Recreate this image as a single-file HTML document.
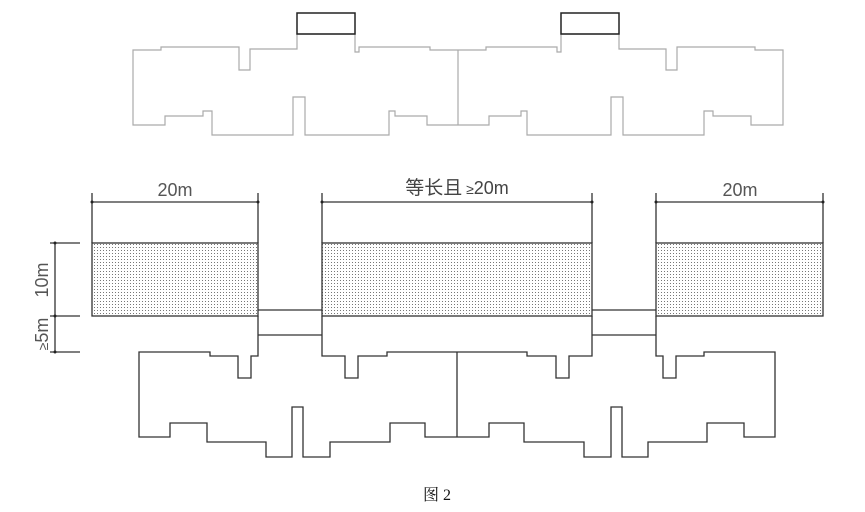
<!DOCTYPE html>
<html><head><meta charset="utf-8"><style>
html,body{margin:0;padding:0;background:#fff;width:865px;height:512px;overflow:hidden}
</style></head><body>
<svg width="865" height="512" viewBox="0 0 865 512" xmlns="http://www.w3.org/2000/svg">
<defs>
<pattern id="dots" width="3" height="3" patternUnits="userSpaceOnUse">
<rect x="1" y="1" width="1" height="1" fill="#777"/>
</pattern>
<g id="tophalf">
<polyline fill="none" stroke="#aaa" stroke-width="1.2" points="458,50 430,50 430,47 359,47 359,52 355,52 355,34 297,34 297,49 250,49 250,70 239,70 239,47 161,47 161,50 133,50 133,125 165,125 165,116 203,116 203,111 212,111 212,135 293,135 293,97 305,97 305,135 389,135 389,111 395,111 395,116 427,116 427,125 458,125"/>
<rect x="297" y="13" width="58" height="21" fill="none" stroke="#222" stroke-width="1.5"/>
</g>
<g id="lowhalf">
<polyline fill="none" stroke="#333" stroke-width="1.3" points="457,352 387,352 387,356 358,356 358,378 345,378 345,356 322,356 322,316"/>
<polyline fill="none" stroke="#333" stroke-width="1.3" points="258,316 258,356 251,356 251,378 238,378 238,356 210,356 210,352 139,352 139,437 170,437 170,423 207,423 207,442 266,442 266,457 292,457 292,407 303,407 303,457 330,457 330,442 390,442 390,423 425,423 425,437 457,437"/>
</g>
</defs>
<use href="#tophalf"/>
<use href="#tophalf" transform="translate(916,0) scale(-1,1)"/>
<line x1="458" y1="50" x2="458" y2="125" stroke="#aaa" stroke-width="1.2"/>

<use href="#lowhalf"/>
<use href="#lowhalf" transform="translate(914,0) scale(-1,1)"/>
<line x1="457" y1="352" x2="457" y2="437" stroke="#333" stroke-width="1.3"/>

<g stroke="#333" stroke-width="1.3">
<rect x="92" y="243" width="166" height="73" fill="url(#dots)"/>
<rect x="322" y="243" width="270" height="73" fill="url(#dots)"/>
<rect x="656" y="243" width="167" height="73" fill="url(#dots)"/>
<line x1="258" y1="310" x2="322" y2="310"/>
<line x1="258" y1="335" x2="322" y2="335"/>
<line x1="592" y1="310" x2="656" y2="310"/>
<line x1="592" y1="335" x2="656" y2="335"/>
<!-- dims -->
<line x1="92" y1="193" x2="92" y2="243"/><line x1="258" y1="193" x2="258" y2="243"/>
<line x1="92" y1="202" x2="258" y2="202"/>
<line x1="322" y1="193" x2="322" y2="243"/><line x1="592" y1="193" x2="592" y2="243"/>
<line x1="322" y1="202" x2="592" y2="202"/>
<line x1="656" y1="193" x2="656" y2="243"/><line x1="823" y1="193" x2="823" y2="243"/>
<line x1="656" y1="202" x2="823" y2="202"/>
<line x1="55" y1="243" x2="55" y2="352"/>
<line x1="50" y1="243" x2="80" y2="243"/>
<line x1="50" y1="316" x2="80" y2="316"/>
<line x1="50" y1="352" x2="80" y2="352"/>
</g>
<g fill="#222">
<circle cx="92" cy="202" r="1.5"/><circle cx="258" cy="202" r="1.5"/>
<circle cx="322" cy="202" r="1.5"/><circle cx="592" cy="202" r="1.5"/>
<circle cx="656" cy="202" r="1.5"/><circle cx="823" cy="202" r="1.5"/>
<circle cx="55" cy="243" r="1.5"/><circle cx="55" cy="316" r="1.5"/><circle cx="55" cy="352" r="1.5"/>
</g>
<g font-family="Liberation Sans, sans-serif" fill="#555" font-size="18">
<text x="175" y="196" text-anchor="middle">20m</text>
<text x="740" y="196" text-anchor="middle">20m</text>
<text x="457" y="194" text-anchor="middle" fill="#444"><tspan font-family="Liberation Sans, Noto Sans CJK SC, sans-serif" font-size="19">等长且</tspan><tspan font-size="14"> ≥</tspan>20m</text>
<text transform="translate(48,280) rotate(-90)" text-anchor="middle">10m</text>
<text transform="translate(48,334) rotate(-90)" text-anchor="middle"><tspan font-size="14">≥</tspan>5m</text>
</g>
<text x="437" y="500" text-anchor="middle" font-family="Liberation Serif, Noto Serif CJK SC, serif" font-size="16" fill="#111">图 2</text>
</svg>
</body></html>
